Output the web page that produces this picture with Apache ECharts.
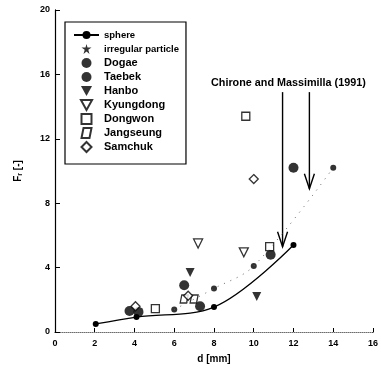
<!DOCTYPE html>
<html><head><meta charset="utf-8">
<script src="https://cdn.jsdelivr.net/npm/echarts@6/dist/echarts.min.js"></script>
<style>html,body{margin:0;padding:0;background:#fff}#c{width:381px;height:378px}</style>
</head><body><div id="c"></div>
<script>
const xTicks = [0, 2, 4, 6, 8, 10, 12, 14, 16];
const yTicks = [0, 4, 8, 12, 16, 20];
const sphereX = [2.05, 4.1, 8.0, 12.0];
const sphereY = [0.5, 0.93, 1.55, 5.4];
const irregularX = [6.0, 8.0, 10.0, 14.0];
const irregularY = [1.4, 2.7, 4.1, 10.2];
const dogae = [[3.75, 1.3], [6.5, 2.9], [10.85, 4.8]];
const taebek = [[4.2, 1.25], [7.3, 1.6], [12.0, 10.2]];
const hanbo = [[6.8, 3.7], [10.15, 2.2]];
const kyungdong = [[7.2, 5.5], [9.5, 4.95]];
const dongwon = [[5.05, 1.45], [9.6, 13.4], [10.8, 5.3]];
const jangseung = [[6.5, 2.05], [7.0, 2.05]];
const samchuk = [[4.05, 1.6], [6.7, 2.25], [10.0, 9.5]];
const arrowX = [11.45, 12.8];
const arrowTop = [14.9, 14.9];
const arrowBottom = [5.3, 8.9];
const noteText = 'Chirone and Massimilla (1991)';

const zip = (a, b) => a.map((v, i) => [v, b[i]]);
const FONT = 'Liberation Sans, Arial, sans-serif';
const openStyle = {color: '#fff', borderColor: '#000', borderWidth: 1.3};
const fillStyle = {color: '#000'};
const starPath = 'path://M5,0 L6,3.5 L10,3.5 L6.8,5.8 L8,10 L5,7.4 L2,10 L3.2,5.8 L0,3.5 L4,3.5 Z';
const paraPath = 'path://M2,0 L10,0 L8,10 L0,10 Z';
const triDown = 'path://M0,0 L10,0 L5,9 Z';
const rectPath = 'path://M0,0 L10,0 L10,10 L0,10 Z';
const diamondPath = 'path://M5,0 L10,5 L5,10 L0,5 Z';

const chart = echarts.init(document.getElementById('c'), null, {renderer: 'canvas'});
const axisLabel = {color: '#000', fontFamily: FONT, fontWeight: 'bold', fontSize: 9};
chart.setOption({
  animation: false,
  backgroundColor: '#fff',
  grid: {left: 55, right: 4, top: 10, bottom: 46},
  xAxis: [{
    type: 'value', min: xTicks[0], max: xTicks[xTicks.length - 1], interval: 2,
    name: 'd [mm]', nameLocation: 'middle', nameGap: 22,
    nameTextStyle: {color: '#000', fontFamily: FONT, fontWeight: 'bold', fontSize: 10},
    axisLine: {lineStyle: {color: '#000', width: 1.2}},
    axisTick: {inside: true, length: 4, lineStyle: {color: '#000'}},
    axisLabel: Object.assign({margin: 7}, axisLabel),
    splitLine: {show: false}
  }, {
    type: 'value', position: 'top', min: 0, max: 16,
    axisLine: {show: true, lineStyle: {color: '#aaa', type: 'dotted'}},
    axisTick: {show: false}, axisLabel: {show: false}, splitLine: {show: false}
  }],
  yAxis: [{
    type: 'value', min: yTicks[0], max: yTicks[yTicks.length - 1], interval: 4,
    name: 'F{s|r} [-]', nameLocation: 'middle', nameGap: 31, nameRotate: 90,
    nameTextStyle: {color: '#000', fontFamily: FONT, fontWeight: 'bold', fontSize: 10,
      rich: {s: {fontSize: 7, fontWeight: 'bold', fontFamily: FONT, color: '#000', verticalAlign: 'bottom', padding: [4, 0, 0, 0]}}},
    axisLine: {show: true, lineStyle: {color: '#000', width: 1.2}},
    axisTick: {inside: true, length: 5, lineStyle: {color: '#000'}},
    axisLabel: Object.assign({margin: 5}, axisLabel),
    splitLine: {show: false}
  }, {
    type: 'value', position: 'right', min: 0, max: 20,
    axisLine: {show: true, lineStyle: {color: '#000', width: 1}},
    axisTick: {show: false}, axisLabel: {show: false}, splitLine: {show: false}
  }],
  legend: {
    orient: 'vertical', left: 65, top: 22, itemGap: 2, itemWidth: 25, itemHeight: 10,
    padding: [7, 7, 11, 8],
    borderColor: '#000', borderWidth: 1.2, backgroundColor: '#fff',
    textStyle: {color: '#000', fontFamily: FONT, fontWeight: 'bold', fontSize: 11, lineHeight: 12},
    data: [
      {name: 'sphere', textStyle: {fontSize: 9.5, lineHeight: 12}},
      {name: 'irregular particle', icon: starPath, textStyle: {fontSize: 9.5, lineHeight: 12}},
      'Dogae', 'Taebek', 'Hanbo', 'Kyungdong', 'Dongwon', 'Jangseung', 'Samchuk'
    ]
  },
  graphic: [{
    type: 'text', left: 211, top: 78,
    style: {text: noteText, fill: '#000', font: 'bold 10.8px ' + FONT}
  }],
  series: [
    {name: 'sphere', type: 'line', data: zip(sphereX, sphereY), smooth: 0.35,
      symbol: 'circle', symbolSize: 6, itemStyle: fillStyle,
      lineStyle: {color: '#000', width: 1.3}},
    {name: 'irregular particle', type: 'scatter', data: zip(irregularX, irregularY),
      symbol: 'circle', symbolSize: 6, itemStyle: fillStyle},
    {name: 'irrTrend', type: 'line', data: zip(irregularX, irregularY), smooth: 0.35,
      symbol: 'none', lineStyle: {color: '#666', width: 1, type: [1, 6]}},
    {name: 'Dogae', type: 'scatter', data: dogae, symbol: 'circle', symbolSize: 10, itemStyle: fillStyle},
    {name: 'Taebek', type: 'scatter', data: taebek, symbol: 'circle', symbolSize: 10, itemStyle: fillStyle},
    {name: 'Hanbo', type: 'scatter', data: hanbo, symbol: triDown, symbolSize: 9, itemStyle: fillStyle},
    {name: 'Kyungdong', type: 'scatter', data: kyungdong, symbol: triDown, symbolSize: 9, itemStyle: openStyle},
    {name: 'Dongwon', type: 'scatter', data: dongwon, symbol: rectPath, symbolSize: 8, itemStyle: openStyle},
    {name: 'Jangseung', type: 'scatter', data: jangseung, symbol: paraPath, symbolSize: 8, itemStyle: openStyle},
    {name: 'Samchuk', type: 'scatter', data: samchuk, symbol: diamondPath, symbolSize: 9, itemStyle: openStyle},
    {name: 'arrows', type: 'custom', clip: false,
      data: arrowX.map((x, i) => [x, arrowTop[i], arrowBottom[i]]),
      encode: {x: 0, y: [1, 2]},
      renderItem: function (params, api) {
        const x = api.value(0);
        const p1 = api.coord([x, api.value(1)]);
        const p2 = api.coord([x, api.value(2)]);
        const st = {stroke: '#000', lineWidth: 1.4, fill: null};
        return {type: 'group', children: [
          {type: 'line', shape: {x1: p1[0], y1: p1[1], x2: p2[0], y2: p2[1]}, style: st},
          {type: 'polyline', shape: {points: [[p2[0] - 5, p2[1] - 15], [p2[0], p2[1]], [p2[0] + 5, p2[1] - 15]]}, style: st}
        ]};
      }}
  ]
});
</script></body></html>
